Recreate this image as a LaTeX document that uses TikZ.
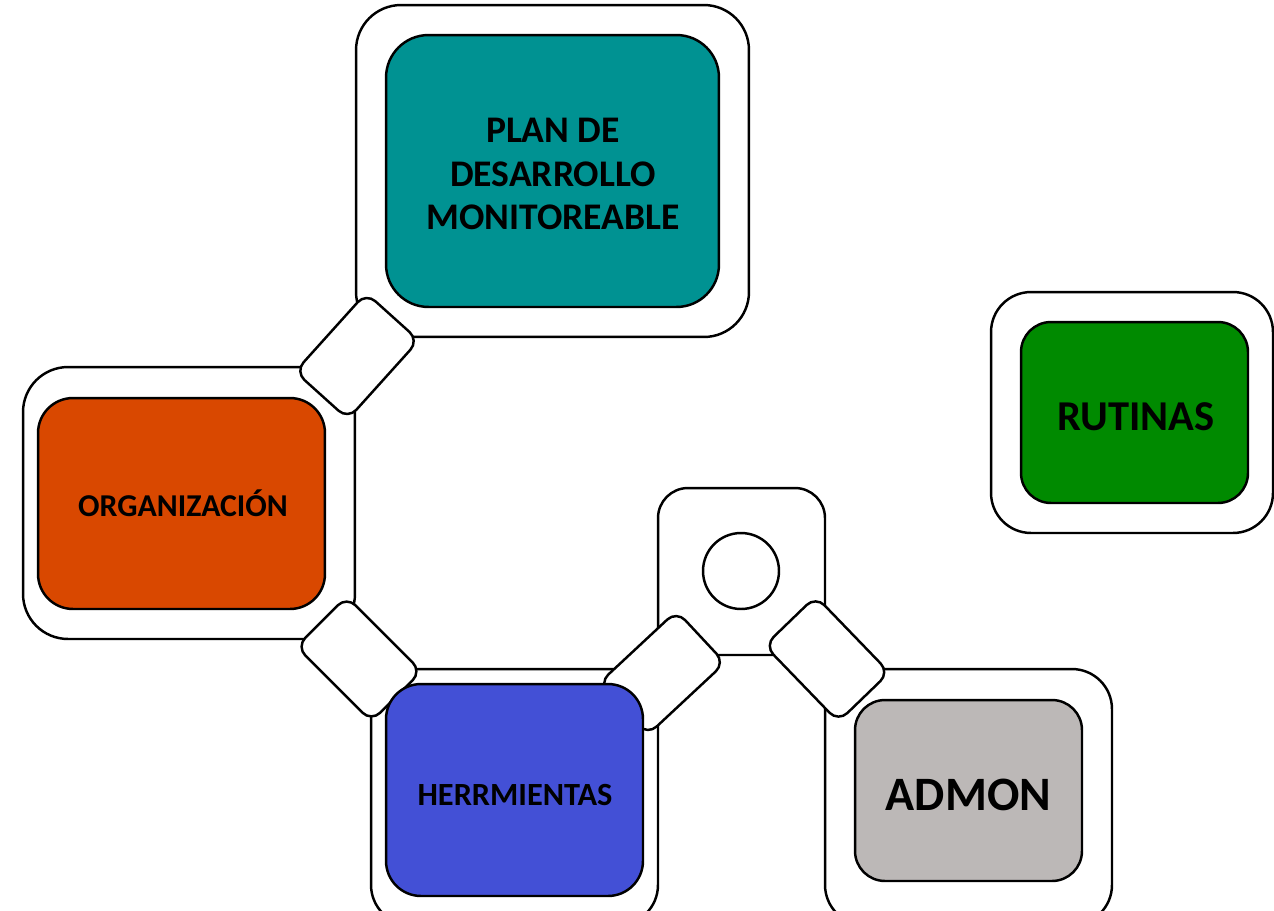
\documentclass[tikz,border=0pt]{standalone}
\usepackage{fontspec}
\setmainfont{Carlito}
\definecolor{cteal}{RGB}{0,146,146}
\definecolor{corange}{RGB}{217,72,0}
\definecolor{cblue}{RGB}{67,80,214}
\definecolor{cgray}{RGB}{188,184,183}
\definecolor{cgreen}{RGB}{0,138,0}
\tikzset{
  frame/.style={draw=black, line width=1.4pt, fill=white, rounded corners=#1, inner sep=0pt},
  frame/.default=0.85cm,
  inbox/.style={draw=black, line width=1.4pt, rounded corners=#1, inner sep=0pt},
  inbox/.default=0.7cm,
  lbl/.style={inner sep=0pt, align=center, text=black},
  link/.style={draw=black, line width=1.4pt, fill=white, rounded corners=0.25cm, inner sep=0pt, minimum width=2.12cm, minimum height=1.42cm},
}
\begin{document}
\begin{tikzpicture}[x=0.02cm,y=-0.02cm]
\useasboundingbox (0,0) rectangle (1274,910);
\clip (0,0) rectangle (1274,910);
% outer frames
\node[frame=0.9cm, minimum width=7.86cm, minimum height=6.64cm] (planF) at (552.5,171) {};
\node[frame=0.9cm, minimum width=6.64cm, minimum height=5.44cm] (orgF) at (189,503) {};
\node[frame=0.8cm, minimum width=5.74cm, minimum height=5.12cm] (herrF) at (514.5,797) {};
\node[frame=0.8cm, minimum width=5.74cm, minimum height=5.12cm] (admF) at (968.5,797) {};
\node[frame=0.8cm, minimum width=5.64cm, minimum height=4.82cm] (rutF) at (1132,412.5) {};
\node[frame=0.6cm, minimum width=3.34cm, minimum height=3.34cm] (circF) at (741.5,571.5) {};
\node[draw=black, line width=1.4pt, fill=white, circle, inner sep=0pt, minimum size=1.52cm] (circ) at (741,571) {};
% links
\node[link, rotate=48] (l1) at (357,356) {};
\node[link, rotate=-45] (l2) at (359,659) {};
\node[link, rotate=43] (l3) at (662,673) {};
\node[link, rotate=-46] (l4) at (827,659) {};
% inner boxes
\node[inbox=0.85cm, fill=cteal, minimum width=6.66cm, minimum height=5.44cm] (plan) at (552.5,171) {};
\node[inbox=0.7cm, fill=corange, minimum width=5.74cm, minimum height=4.22cm] (org) at (181.5,503.5) {};
\node[inbox=0.7cm, fill=cblue, minimum width=5.14cm, minimum height=4.24cm] (herr) at (514.5,790) {};
\node[inbox=0.6cm, fill=cgray, minimum width=4.54cm, minimum height=3.62cm] (adm) at (968.5,790.5) {};
\node[inbox=0.6cm, fill=cgreen, minimum width=4.54cm, minimum height=3.62cm] (rut) at (1134.5,412.5) {};
% labels
\node[lbl, font=\bfseries\fontsize{21.4}{25}\selectfont] (planT) at (553,174) {PLAN DE\\DESARROLLO\\MONITOREABLE};
\node[lbl, font=\bfseries\fontsize{18.1}{22}\selectfont] (orgT) at (183,503) {ORGANIZACIÓN};
\node[lbl, font=\bfseries\fontsize{18.4}{22}\selectfont] (herrT) at (515,795) {HERRMIENTAS};
\node[lbl, font=\bfseries\fontsize{27.3}{33}\selectfont] (admT) at (968.5,795) {ADMON};
\node[lbl, font=\bfseries\fontsize{24.2}{29}\selectfont] (rutT) at (1136,417) {RUTINAS};
\end{tikzpicture}
\end{document}
